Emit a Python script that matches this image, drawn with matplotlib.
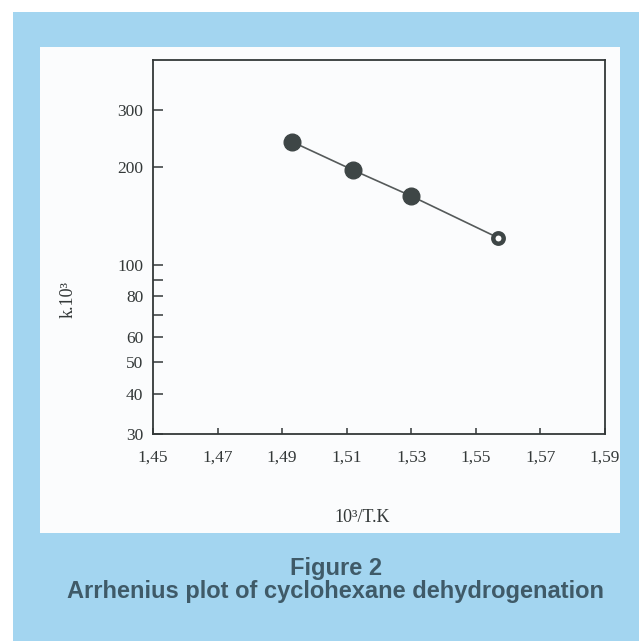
import matplotlib
matplotlib.use('Agg')
import matplotlib.pyplot as plt
from matplotlib.patches import Rectangle

# data
inv_T = [1.493, 1.512, 1.530, 1.557]
k_val = [240, 196, 163, 121]
open_point = 3  # last point is drawn as an open circle

x_ticks = [1.45, 1.47, 1.49, 1.51, 1.53, 1.55, 1.57, 1.59]
x_labels = ['1,45', '1,47', '1,49', '1,51', '1,53', '1,55', '1,57', '1,59']
y_ticks = [30, 40, 50, 60, 70, 80, 90, 100, 200, 300]
y_labels = ['30', '40', '50', '60', '', '80', '', '100', '200', '300']

blue = '#a3d5f0'
ink = '#333838'
cap_col = '#3f5a68'

fig = plt.figure(figsize=(6.39, 6.41), dpi=100)
fig.patch.set_facecolor('white')

# blue page panel and white inset
fig.patches.append(Rectangle((0.0203, 0.0), 0.98, 0.9813, transform=fig.transFigure,
                             facecolor=blue, edgecolor='none', zorder=-2))
fig.patches.append(Rectangle((0.0626, 0.1685), 0.9077, 0.7582, transform=fig.transFigure,
                             facecolor='#fbfcfd', edgecolor='none', zorder=-1))

ax = fig.add_axes([0.2394, 0.3229, 0.7074, 0.5835])
ax.set_zorder(2)
ax.set_facecolor('none')
ax.set_yscale('log')

ax.plot(inv_T, k_val, color='#555a5a', lw=1.2, zorder=2)
ax.plot(inv_T[:open_point], k_val[:open_point], 'o', ms=12, color='#3e4646', zorder=3)
ax.plot(inv_T[open_point], k_val[open_point], 'o', ms=7.5, mfc='white', mec='#3e4646', mew=3.2, zorder=3)

ax.set_xlim(1.45, 1.59)
ax.set_ylim(30, 429)
ax.set_xticks(x_ticks)
ax.set_xticklabels(x_labels)
ax.set_yticks(y_ticks)
ax.set_yticklabels(y_labels)
ax.yaxis.set_minor_locator(matplotlib.ticker.NullLocator())

for lab in ax.get_xticklabels() + ax.get_yticklabels():
    lab.set_fontfamily('Liberation Serif')
    lab.set_fontsize(12.5)
    lab.set_color(ink)

ax.tick_params(axis='y', direction='in', length=7, width=1.1, pad=7, color=ink)
ax.tick_params(axis='x', direction='in', length=4, width=1.1, pad=11, color=ink)
for s in ax.spines.values():
    s.set_color(ink)
    s.set_linewidth(1.3)

fig.text(0.1064, 0.532, 'k.10³', rotation=90, ha='center', va='center',
         family='Liberation Serif', fontsize=13, color=ink)
fig.text(0.5665, 0.192, '10³/T.K', ha='center', va='center',
         family='Liberation Serif', fontsize=13, color=ink)

fig.text(0.5258, 0.1125, 'Figure 2', ha='center', va='center',
         family='Liberation Sans', weight='bold', fontsize=17, color=cap_col)
fig.text(0.5258, 0.078, 'Arrhenius plot of cyclohexane dehydrogenation', ha='center', va='center',
         family='Liberation Sans', weight='bold', fontsize=17, color=cap_col)

plt.savefig('out.png', dpi=100)
